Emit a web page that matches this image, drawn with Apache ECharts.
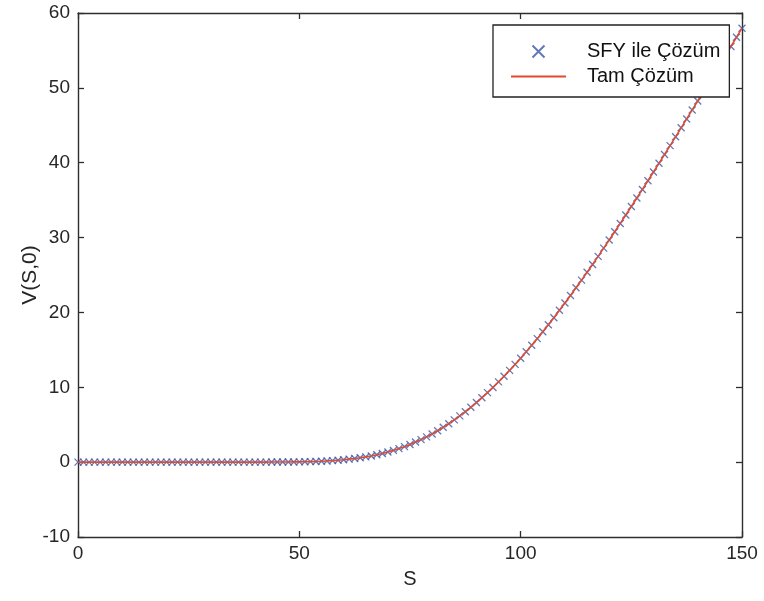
<!DOCTYPE html>
<html>
<head>
<meta charset="utf-8">
<script src="https://cdn.jsdelivr.net/npm/echarts@6/dist/echarts.min.js"></script>
<style>
html,body{margin:0;padding:0;background:#fff;}
#chart{width:764px;height:601px;}
</style>
</head>
<body>
<div id="chart"></div>
<script>
// S grid (x values)
const S = [
  0,1.25,2.5,3.75,5,6.25,7.5,8.75,
  10,11.25,12.5,13.75,15,16.25,17.5,18.75,
  20,21.25,22.5,23.75,25,26.25,27.5,28.75,
  30,31.25,32.5,33.75,35,36.25,37.5,38.75,
  40,41.25,42.5,43.75,45,46.25,47.5,48.75,
  50,51.25,52.5,53.75,55,56.25,57.5,58.75,
  60,61.25,62.5,63.75,65,66.25,67.5,68.75,
  70,71.25,72.5,73.75,75,76.25,77.5,78.75,
  80,81.25,82.5,83.75,85,86.25,87.5,88.75,
  90,91.25,92.5,93.75,95,96.25,97.5,98.75,
  100,101.25,102.5,103.75,105,106.25,107.5,108.75,
  110,111.25,112.5,113.75,115,116.25,117.5,118.75,
  120,121.25,122.5,123.75,125,126.25,127.5,128.75,
  130,131.25,132.5,133.75,135,136.25,137.5,138.75,
  140,141.25,142.5,143.75,145,146.25,147.5,148.75,
  150
];
// V(S,0) values
const V = [
  0,0,0,0,0,0,0,0,
  0,0,0,0,0,0,0,0,
  0,0,0,0,0,0,0,0,
  0,0,0,0,0,0,0,0,
  0.00,0.00,0.00,0.01,0.01,0.01,0.02,0.03,
  0.04,0.05,0.07,0.09,0.12,0.16,0.20,0.26,
  0.32,0.40,0.48,0.59,0.70,0.83,0.99,1.16,
  1.35,1.57,1.81,2.07,2.36,2.68,3.01,3.38,
  3.77,4.20,4.65,5.13,5.65,6.18,6.74,7.33,
  7.96,8.61,9.29,9.98,10.72,11.47,12.26,13.06,
  13.89,14.74,15.62,16.50,17.42,18.35,19.30,20.28,
  21.27,22.26,23.29,24.31,25.37,26.41,27.49,28.59,
  29.67,30.77,31.89,33.02,34.15,35.28,36.43,37.59,
  38.76,39.92,41.10,42.28,43.46,44.66,45.85,47.05,
  48.24,49.45,50.67,51.89,53.09,54.32,55.53,56.75,
  57.97
];
const seriesNames = ['SFY ile Çözüm', 'Tam Çözüm'];
const xTicks = [0, 50, 100, 150];
const yTicks = [-10, 0, 10, 20, 30, 40, 50, 60];

const pts = S.map((s, i) => [s, V[i]]);
const axisColor = '#2e2e2e';
const textColor = '#262626';
const font = 'Liberation Sans, Arial, Helvetica, sans-serif';

const chart = echarts.init(document.getElementById('chart'), null, {renderer: 'canvas'});
const tickAxis = {
  axisLine: {show: true, onZero: false, lineStyle: {color: axisColor, width: 1.4}},
  axisTick: {show: true, inside: true, length: 6, lineStyle: {color: axisColor, width: 1.3}},
  splitLine: {show: false}
};
chart.setOption({
  backgroundColor: '#ffffff',
  animation: false,
  grid: {left: 78, right: 22, top: 13, bottom: 64, containLabel: false},
  legend: {
    left: 493, top: 25,
    orient: 'vertical',
    backgroundColor: '#ffffff',
    borderColor: '#222222',
    borderWidth: 1.3,
    borderRadius: 0,
    padding: [16, 9, 10, 17],
    itemWidth: 55,
    itemHeight: 12,
    itemGap: 4,
    data: [
      {name: seriesNames[0]},
      {name: seriesNames[1], itemStyle: {opacity: 0}}
    ],
    formatter: function (n) { return '{g|}' + n; },
    textStyle: {
      fontFamily: font, fontSize: 20, color: '#111111', lineHeight: 21,
      rich: {g: {width: 16}}
    }
  },
  xAxis: [
    Object.assign({
      type: 'value', min: 0, max: 150, interval: 50, position: 'bottom',
      name: 'S', nameLocation: 'middle', nameGap: 32,
      nameTextStyle: {fontFamily: font, fontSize: 20, color: textColor},
      axisLabel: {
        margin: 7, fontFamily: font, fontSize: 19, color: textColor,
        customValues: xTicks
      }
    }, tickAxis),
    Object.assign({
      type: 'value', min: 0, max: 150, interval: 50, position: 'top',
      axisLabel: {show: false}
    }, tickAxis)
  ],
  yAxis: [
    Object.assign({
      type: 'value', min: -10, max: 60, interval: 10, position: 'left',
      name: 'V(S,0)', nameLocation: 'middle', nameGap: 37, nameMoveOverlap: false,
      nameTextStyle: {fontFamily: font, fontSize: 21, color: textColor},
      axisLabel: {margin: 8, fontFamily: font, fontSize: 19, color: textColor}
    }, tickAxis),
    Object.assign({
      type: 'value', min: -10, max: 60, interval: 10, position: 'right',
      axisLabel: {show: false}
    }, tickAxis)
  ],
  series: [
    {
      name: seriesNames[0],
      type: 'scatter',
      data: pts,
      symbol: 'path://M0,0L10,10M10,0L0,10',
      symbolSize: 7,
      itemStyle: {color: 'rgba(0,0,0,0)', borderColor: '#3a58a8', borderWidth: 1.3},
      z: 2
    },
    {
      name: seriesNames[1],
      type: 'line',
      data: pts,
      showSymbol: false,
      symbol: 'none',
      lineStyle: {color: '#e04a2f', width: 1.6},
      itemStyle: {color: '#e04a2f'},
      z: 3
    }
  ]
});
</script>
</body>
</html>
